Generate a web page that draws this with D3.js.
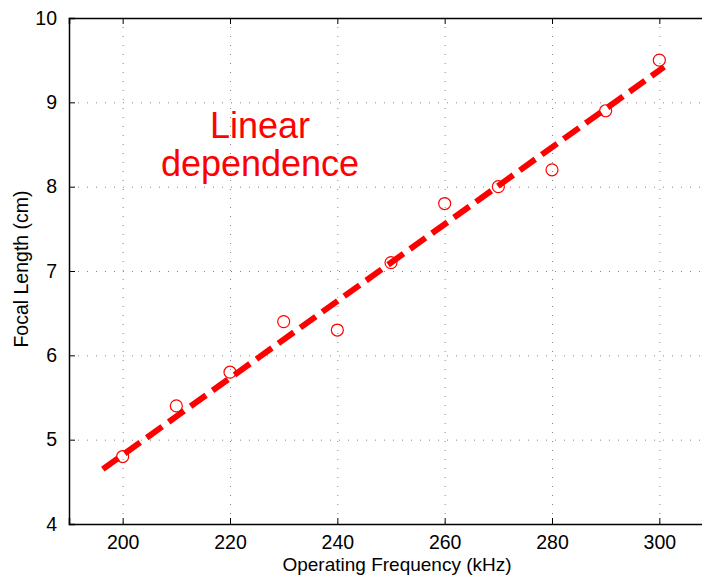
<!DOCTYPE html>
<html>
<head>
<meta charset="utf-8">
<script src="https://cdn.jsdelivr.net/npm/d3@7"></script>
<style>
  body { margin: 0; background: white; }
  svg { display: block; font-family: "Liberation Sans", Arial, sans-serif; }
</style>
</head>
<body>
<svg width="702" height="577"></svg>
<script>
// measured data points
const freq = [200, 210, 220, 230, 240, 250, 260, 270, 280, 290, 300]
const focal = [4.8, 5.4, 5.8, 6.4, 6.3, 7.1, 7.8, 8.0, 8.2, 8.9, 9.5]
// fitted line endpoints
const fitX = [196.3, 300.9]
const fitY = [4.65, 9.42]
const xTicks = [200, 220, 240, 260, 280, 300]
const yTicks = [4, 5, 6, 7, 8, 9, 10]
const annotation = ["Linear", "dependence"]

function drawChart() {
    const svg = d3.select("svg")
    const left = 69, top = 18, bottom = 524, right = 713

    const x = d3.scaleLinear().domain([190, 310]).range([left, right])
    const y = d3.scaleLinear().domain([4, 10]).range([bottom, top])

    const clip = svg.append("defs").append("clipPath").attr("id", "clip")
    clip.append("rect").attr("x", left).attr("y", top)
        .attr("width", right - left).attr("height", bottom - top)

    // grid
    const grid = svg.append("g").attr("stroke", "#888").attr("stroke-width", 1)
        .attr("stroke-dasharray", "1,8")
    grid.selectAll(".vg").data(xTicks).enter().append("line")
        .attr("x1", d => x(d) + 0.5).attr("x2", d => x(d) + 0.5)
        .attr("y1", top).attr("y2", bottom)
    grid.selectAll(".hg").data(yTicks.filter(d => d > 4 && d < 10)).enter().append("line")
        .attr("x1", left).attr("x2", right)
        .attr("y1", d => y(d) + 0.5).attr("y2", d => y(d) + 0.5)

    // axes (ticks inside)
    const xAxisB = d3.axisBottom(x).tickValues(xTicks).tickSize(-6).tickPadding(11.5)
    const xAxisT = d3.axisTop(x).tickValues(xTicks).tickSize(-6).tickFormat("")
    const yAxisL = d3.axisLeft(y).tickValues(yTicks).tickSize(-6).tickPadding(12)
        .tickFormat(d3.format("d"))

    const gb = svg.append("g").attr("transform", `translate(0,${bottom})`).call(xAxisB)
    const gt = svg.append("g").attr("transform", `translate(0,${top})`).call(xAxisT)
    const gl = svg.append("g").attr("transform", `translate(${left},0)`).call(yAxisL)

    for (const g of [gb, gt, gl]) {
        g.select(".domain").attr("stroke", "#000").attr("stroke-width", 1.5)
        g.selectAll(".tick line").attr("stroke", "#000").attr("stroke-width", 1)
        g.selectAll("text").attr("font-size", 19.5).attr("fill", "#000")
            .attr("font-family", "Liberation Sans, Arial, sans-serif")
    }

    // fitted line
    const fit = fitX.map((d, i) => [d, fitY[i]])
    svg.append("path")
        .datum(fit)
        .attr("clip-path", "url(#clip)")
        .attr("d", d3.line().x(d => x(d[0])).y(d => y(d[1])))
        .attr("fill", "none")
        .attr("stroke", "#ff0000")
        .attr("stroke-width", 6)
        .attr("stroke-dasharray", "19,8")

    // data points
    svg.append("g").selectAll("circle")
        .data(freq)
        .enter()
        .append("circle")
        .attr("cx", d => x(d))
        .attr("cy", (d, i) => y(focal[i]))
        .attr("r", 6)
        .attr("fill", "none")
        .attr("stroke", "#ff0000")
        .attr("stroke-width", 1.2)

    // annotation
    svg.append("text")
        .attr("x", 260).attr("y", 138)
        .attr("text-anchor", "middle")
        .attr("font-size", 36)
        .attr("fill", "#ff0000")
        .selectAll("tspan")
        .data(annotation)
        .enter()
        .append("tspan")
        .attr("x", 260)
        .attr("dy", (d, i) => i === 0 ? 0 : 38)
        .text(d => d)

    // axis labels
    svg.append("text")
        .attr("x", 397).attr("y", 571)
        .attr("text-anchor", "middle")
        .attr("font-size", 19)
        .text("Operating Frequency (kHz)")

    svg.append("text")
        .attr("transform", `translate(27.5,269) rotate(-90)`)
        .attr("text-anchor", "middle")
        .attr("font-size", 19.5)
        .text("Focal Length (cm)")
}
drawChart()
</script>
</body>
</html>
